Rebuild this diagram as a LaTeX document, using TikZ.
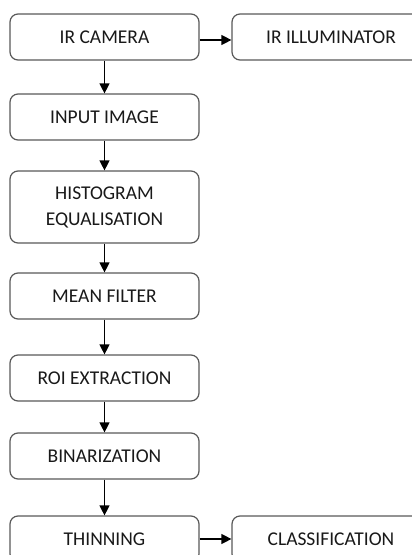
\documentclass[tikz,border=0pt]{standalone}
\usepackage{fontspec}
\setmainfont{Carlito}
\usetikzlibrary{arrows.meta}
\tikzset{
	blk/.style={draw=black!65, line width=1.2pt, rounded corners=8pt, fill=white,
		minimum width=189pt, minimum height=46pt, align=center, inner sep=0pt,
		font=\fontsize{19.5}{26}\selectfont, text=black!90},
	flow/.style={-{Triangle[length=10pt,width=10pt]}, line width=1.2pt}
}
\begin{document}
\begin{tikzpicture}[x=1pt,y=-1pt]
		\useasboundingbox (0,0) rectangle (412,555);
		\clip (0,0) rectangle (412,555);
		
		\node (cam) at (104.5,37) [blk] {IR CAMERA};
		\node (illum) at (331,37) [blk, minimum width=198pt] {IR ILLUMINATOR};
		\node (input) at (104.5,117) [blk] {INPUT IMAGE};
		\node (histeq) at (104.5,207) [blk, minimum height=72pt] {HISTOGRAM\\EQUALISATION};
		\node (mean) at (104.5,296) [blk] {MEAN FILTER};
		\node (roi) at (104.5,378) [blk] {ROI EXTRACTION};
		\node (binar) at (104.5,456) [blk] {BINARIZATION};
		\node (thin) at (104.5,539) [blk] {THINNING};
		\node (classif) at (331,539) [blk, minimum width=198pt] {CLASSIFICATION};
		
		\draw[flow] ([yshift=-3pt]cam.east) -- ([yshift=-3pt]illum.west);
		\draw[flow] (cam) -- (input);
		\draw[flow] (input) -- (histeq);
		\draw[flow] (histeq) -- (mean);
		\draw[flow] (mean) -- (roi);
		\draw[flow] (roi) -- (binar);
		\draw[flow] (binar) -- (thin);
		\draw[flow] (thin) -- (classif);
	\end{tikzpicture}
\end{document}
